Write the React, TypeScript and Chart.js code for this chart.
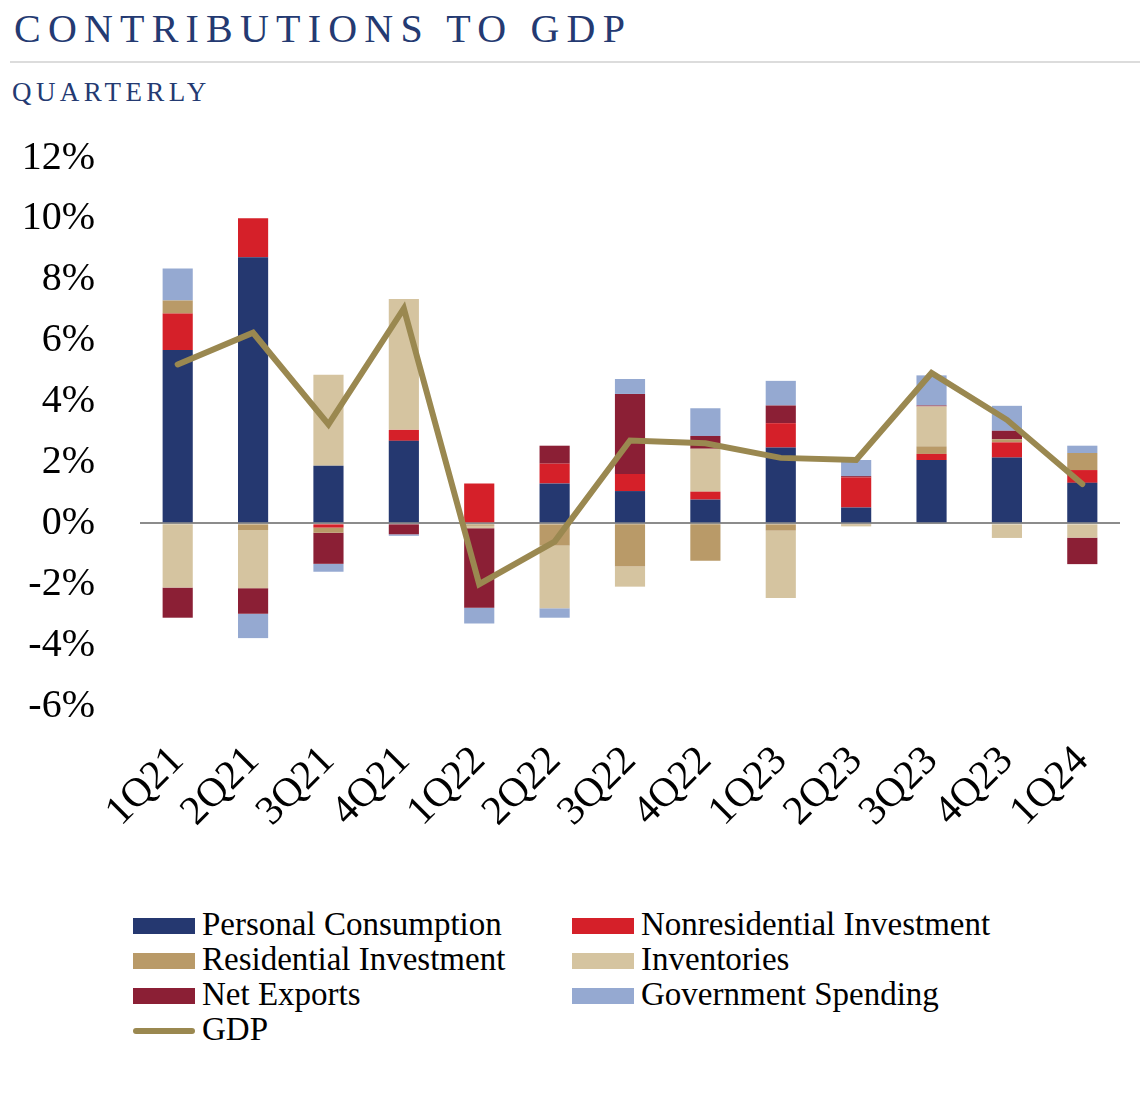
import React, { useEffect, useRef } from "react";
import { Chart, registerables } from "chart.js";

Chart.register(...registerables);

const quarters = ["1Q21", "2Q21", "3Q21", "4Q21", "1Q22", "2Q22", "3Q22", "4Q22", "1Q23", "2Q23", "3Q23", "4Q23", "1Q24"];
const personalConsumption = [5.69, 8.74, 1.89, 2.71, 0, 1.31, 1.06, 0.78, 2.49, 0.52, 2.08, 2.16, 1.33];
const nonresidentialInvestment = [1.2, 1.28, -0.14, 0.36, 1.31, 0.65, 0.56, 0.26, 0.8, 0.99, 0.2, 0.5, 0.42];
const residentialInvestment = [0.43, -0.22, -0.17, 0, -0.08, -0.73, -1.42, -1.23, -0.24, -0.05, 0.25, 0.1, 0.56];
const inventories = [-2.11, -1.91, 2.99, 4.3, -0.08, -2.06, -0.66, 1.41, -2.21, -0.05, 1.31, -0.48, -0.47];
const netExports = [-0.99, -0.84, -1.02, -0.36, -2.61, 0.59, 2.63, 0.42, 0.58, 0.04, 0.03, 0.28, -0.87];
const governmentSpending = [1.05, -0.8, -0.26, -0.05, -0.52, -0.31, 0.49, 0.91, 0.81, 0.53, 0.99, 0.82, 0.24];
const gdp = [5.22, 6.26, 3.25, 7.06, -2.0, -0.6, 2.72, 2.63, 2.15, 2.08, 4.94, 3.4, 1.29];

const yTicks = [-6, -4, -2, 0, 2, 4, 6, 8, 10, 12];

const COLORS = {
  pc: "#253870",
  nonres: "#d52029",
  res: "#b99a68",
  inv: "#d5c4a0",
  ne: "#8b1f35",
  gov: "#95a9d1",
  gdp: "#9a8850",
};

const NAVY = "#243a72";
const SERIF = "'Liberation Serif', 'Times New Roman', serif";

const legendItems = [
  { label: "Personal Consumption", color: COLORS.pc, x: 133, y: 926, line: false },
  { label: "Nonresidential Investment", color: COLORS.nonres, x: 572, y: 926, line: false },
  { label: "Residential Investment", color: COLORS.res, x: 133, y: 961, line: false },
  { label: "Inventories", color: COLORS.inv, x: 572, y: 961, line: false },
  { label: "Net Exports", color: COLORS.ne, x: 133, y: 996, line: false },
  { label: "Government Spending", color: COLORS.gov, x: 572, y: 996, line: false },
  { label: "GDP", color: COLORS.gdp, x: 133, y: 1031, line: true },
];

export default function App() {
  const canvasRef = useRef<HTMLCanvasElement | null>(null);

  useEffect(() => {
    const canvas = canvasRef.current;
    if (!canvas) return;
    const bar = (label: string, data: number[], color: string) => ({
      type: "bar" as const,
      label,
      data,
      backgroundColor: color,
      borderWidth: 0,
      stack: "contrib",
      order: 2,
      barPercentage: 0.4,
      categoryPercentage: 1,
    });
    const chart = new Chart(canvas, {
      type: "bar",
      data: {
        labels: quarters,
        datasets: [
          bar("Personal Consumption", personalConsumption, COLORS.pc),
          bar("Nonresidential Investment", nonresidentialInvestment, COLORS.nonres),
          bar("Residential Investment", residentialInvestment, COLORS.res),
          bar("Inventories", inventories, COLORS.inv),
          bar("Net Exports", netExports, COLORS.ne),
          bar("Government Spending", governmentSpending, COLORS.gov),
          {
            type: "line" as const,
            label: "GDP",
            data: gdp,
            borderColor: COLORS.gdp,
            backgroundColor: COLORS.gdp,
            borderWidth: 6,
            pointRadius: 0,
            tension: 0,
            borderCapStyle: "round",
            borderJoinStyle: "miter",
            stack: "gdp",
            order: 0,
          } as any,
        ],
      },
      options: {
        responsive: false,
        animation: false,
        devicePixelRatio: 1,
        layout: { padding: { top: 38, right: 20, left: 0, bottom: 0 } },
        plugins: {
          legend: { display: false },
          tooltip: { enabled: false },
          title: { display: false },
        },
        scales: {
          x: {
            stacked: true,
            offset: true,
            grid: { display: false, drawTicks: false },
            border: { display: false },
            ticks: {
              autoSkip: false,
              minRotation: 45,
              maxRotation: 45,
              padding: 31,
              color: "#000",
              font: { family: SERIF, size: 41 },
            },
            afterFit: (scale: any) => {
              scale.height = 194;
              scale.paddingLeft = 0;
              scale.paddingRight = 0;
            },
          },
          y: {
            stacked: true,
            min: -6,
            max: 12,
            afterBuildTicks: (scale: any) => {
              scale.ticks = yTicks.map((v) => ({ value: v }));
            },
            grid: {
              drawTicks: false,
              lineWidth: (ctx: any) => (ctx.tick && ctx.tick.value === 0 ? 2 : 0),
              color: (ctx: any) => (ctx.tick && ctx.tick.value === 0 ? "#8c8c8c" : "rgba(0,0,0,0)"),
            },
            border: { display: false },
            ticks: {
              padding: 45,
              color: "#000",
              font: { family: SERIF, size: 40 },
              callback: (v: any) => `${v}%`,
            },
            afterFit: (scale: any) => {
              scale.width = 140;
              scale.paddingTop = 0;
              scale.paddingBottom = 0;
            },
          },
        },
      },
    });
    return () => chart.destroy();
  }, []);

  return (
    <div style={{ position: "absolute", left: 0, top: 0, width: 1140, height: 1095, background: "#fff", overflow: "hidden" }}>
      <div
        style={{
          position: "absolute",
          left: 14,
          top: 9,
          fontFamily: SERIF,
          fontSize: 40,
          lineHeight: "40px",
          letterSpacing: "7.2px",
          color: NAVY,
          whiteSpace: "nowrap",
        }}
      >
        CONTRIBUTIONS TO GDP
      </div>
      <div style={{ position: "absolute", left: 10, top: 61, width: 1130, height: 2, background: "#dcdcdc" }} />
      <div
        style={{
          position: "absolute",
          left: 12,
          top: 79,
          fontFamily: SERIF,
          fontSize: 27,
          lineHeight: "27px",
          letterSpacing: "4.4px",
          color: NAVY,
          whiteSpace: "nowrap",
        }}
      >
        QUARTERLY
      </div>
      <canvas ref={canvasRef} width={1140} height={780} style={{ position: "absolute", left: 0, top: 120, width: 1140, height: 780 }} />
      {legendItems.map((it) => (
        <div key={it.label}>
          {it.line ? (
            <div
              style={{
                position: "absolute",
                left: it.x,
                top: it.y - 3,
                width: 62,
                height: 6,
                borderRadius: 3,
                background: it.color,
              }}
            />
          ) : (
            <div
              style={{
                position: "absolute",
                left: it.x,
                top: it.y - 8,
                width: 62,
                height: 16,
                background: it.color,
              }}
            />
          )}
          <div
            style={{
              position: "absolute",
              left: it.x + 69,
              top: it.y - 18,
              fontFamily: SERIF,
              fontSize: 33,
              lineHeight: "33px",
              color: "#000",
              whiteSpace: "nowrap",
            }}
          >
            {it.label}
          </div>
        </div>
      ))}
    </div>
  );
}
